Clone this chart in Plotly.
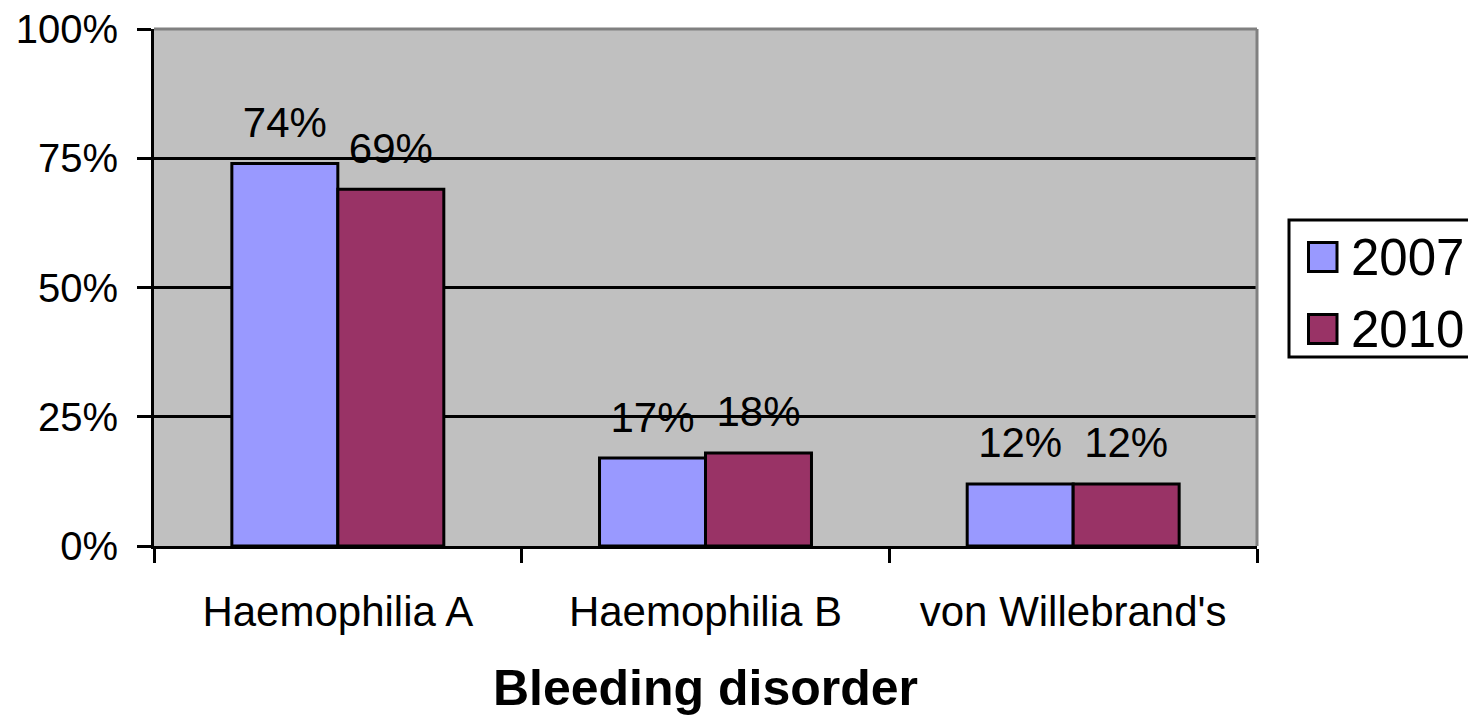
import plotly.graph_objects as go

# ---------------- data ----------------
categories = ["Haemophilia A", "Haemophilia B", "von Willebrand's"]
series_names = ["2007", "2010"]
values_2007 = [0.74, 0.17, 0.12]
values_2010 = [0.69, 0.18, 0.12]
series_colors = ["#9999FF", "#993366"]
y_tick_vals = [0, 0.25, 0.5, 0.75, 1.0]
x_title = "Bleeding disorder"

series_values = [values_2007, values_2010]

FONT = "Liberation Sans, Arial, sans-serif"
W, H = 1468, 716
M_L, M_R, M_T, M_B = 154, 211, 29, 170
PW = W - M_L - M_R
PH = H - M_T - M_B


def px_x(px):
    return (px - M_L) / PW


def px_y(py):
    return (H - M_B - py) / PH


fig = go.Figure()

for name, vals, col in zip(series_names, series_values, series_colors):
    fig.add_trace(go.Bar(
        x=categories, y=vals, name=name, offsetgroup=name,
        marker=dict(color=col, line=dict(color="black", width=3)),
        showlegend=False, hoverinfo="skip",
    ))

for name, vals in zip(series_names, series_values):
    fig.add_trace(go.Scatter(
        x=categories, y=vals, offsetgroup=name,
        mode="markers+text",
        text=[f"{v:.0%}" for v in vals],
        textposition="top center",
        textfont=dict(family=FONT, size=42, color="black"),
        marker=dict(size=24, color="rgba(0,0,0,0)"),
        showlegend=False, hoverinfo="skip", cliponaxis=False,
    ))

shapes = [
    # gray top & right frame of plot area
    dict(type="line", xref="paper", yref="paper", x0=0, x1=1, y0=1, y1=1,
         line=dict(color="#808080", width=3), layer="above"),
    dict(type="line", xref="paper", yref="paper", x0=1, x1=1, y0=0, y1=1,
         line=dict(color="#808080", width=3), layer="above"),
    # legend box
    dict(type="rect", xref="paper", yref="paper",
         x0=px_x(1289), x1=px_x(1480), y0=px_y(357), y1=px_y(220),
         line=dict(color="black", width=3), fillcolor="white", layer="above"),
]
annotations = []
legend_centers = [257, 329]
for name, col, cy in zip(series_names, series_colors, legend_centers):
    shapes.append(dict(type="rect", xref="paper", yref="paper",
                       x0=px_x(1308.5), x1=px_x(1337), y0=px_y(cy + 14.5), y1=px_y(cy - 14.5),
                       line=dict(color="black", width=3), fillcolor=col, layer="above"))
    annotations.append(dict(xref="paper", yref="paper", x=px_x(1349), y=px_y(cy),
                            xanchor="left", yanchor="middle", text=name, showarrow=False,
                            font=dict(family=FONT, size=51, color="black")))

fig.update_layout(
    width=W, height=H,
    margin=dict(l=M_L, r=M_R, t=M_T, b=M_B, pad=0, autoexpand=False),
    paper_bgcolor="white", plot_bgcolor="#C0C0C0",
    barmode="group", bargap=0.4235, bargroupgap=0,
    scattermode="group", scattergap=0.4235,
    showlegend=False,
    font=dict(family=FONT, color="black"),
    shapes=shapes, annotations=annotations,
    xaxis=dict(
        type="category", showgrid=False, showline=True, linecolor="black", linewidth=3,
        ticks="outside", tickson="boundaries", ticklen=14, tickwidth=3, tickcolor="black",
        tickfont=dict(family=FONT, size=42, color="black"), ticklabelstandoff=27,
        title=dict(text=f"<b>{x_title}</b>", font=dict(family=FONT, size=50, color="black"), standoff=38),
        zeroline=False, automargin=False,
    ),
    yaxis=dict(
        range=[0, 1], tickvals=y_tick_vals, tickformat=".0%",
        showgrid=True, gridcolor="black", gridwidth=3,
        showline=True, linecolor="black", linewidth=3,
        ticks="outside", ticklen=14, tickwidth=3, tickcolor="black",
        tickfont=dict(family=FONT, size=40, color="black"), ticklabelstandoff=11,
        zeroline=False, automargin=False,
    ),
)

fig.write_html(
    "out.html",
    config={"displayModeBar": False},
    post_script="document.body.style.margin='0';document.body.style.overflow='hidden';",
)
